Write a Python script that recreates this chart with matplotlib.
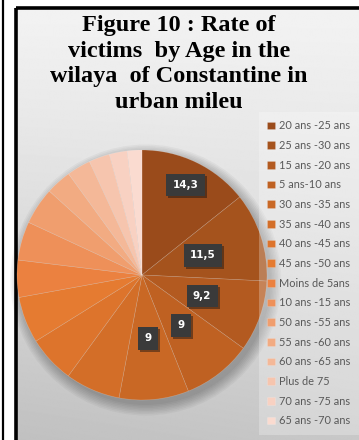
import matplotlib.pyplot as plt
import numpy as np
from matplotlib.patches import Rectangle, Circle
from matplotlib.patheffects import SimplePatchShadow, Normal

# age groups, share of victims (%)
ages = ["20 ans -25 ans", "25 ans -30 ans", "15 ans -20 ans", "5 ans-10 ans",
        "30 ans -35 ans", "35 ans -40 ans", "40 ans -45 ans", "45 ans -50 ans",
        "Moins de 5ans", "10 ans -15 ans", "50 ans -55 ans", "55 ans -60 ans",
        "60 ans -65 ans", "Plus de 75", "70 ans -75 ans", "65 ans -70 ans"]
rates = [14.3, 11.5, 9.2, 9, 9, 7.1, 6.1, 6.0, 4.8, 5.0, 4.8, 3.3, 3.1, 2.7, 2.3, 1.9]
shown = ["14,3", "11,5", "9,2", "9", "9"]

colors = ["#9a4b1b", "#a5531d", "#b35a20", "#bf6122", "#c96825", "#d36e28",
          "#dd742c", "#e57b31", "#eb8140", "#ee9059", "#f09e6e", "#f2ab82",
          "#f4b898", "#f6c5ae", "#f8d1c2", "#fadbd0"]

W, H = 359, 440
fig = plt.figure(figsize=(W / 100, H / 100), dpi=100)
fig.patch.set_facecolor("white")

# gray gradient panel
bg = fig.add_axes([0, 0, 1, 1], zorder=0)
bg.set_xlim(0, W)
bg.set_ylim(H, 0)
bg.axis("off")
yy, xx = np.mgrid[0:H, 0:W]
shade = 0.95 - 0.17 * (yy / H) ** 1.2 - 0.03 * (1 - xx / W) * (yy / H)
bg.imshow(shade, cmap="gray", vmin=0, vmax=1, extent=[15, W + 5, H + 5, 8],
          aspect="auto", zorder=0)
bg.add_patch(Rectangle((15.5, 8.5), W, H, fill=False, ec="black", lw=2.6, zorder=2))
bg.plot([3, 3], [0, H], color="black", lw=1.6, zorder=2)

fig.text(179 / W, 1 - 64 / H,
         "Figure 10 : Rate of\nvictims  by Age in the\nwilaya  of Constantine in\nurban mileu",
         ha="center", va="center", fontsize=17.5, fontweight="bold",
         family="Liberation Serif", linespacing=1.3, zorder=5)

# pie
cx, cy, R = 142, 275, 125
ax = fig.add_axes([(cx - R) / W, (H - cy - R) / H, 2 * R / W, 2 * R / H], zorder=3)
# soft shadow under the pie
for k in range(8):
    ax.add_patch(Circle((0.03, -0.04), 1.0 + 0.012 * k, fc="black", ec="none",
                        alpha=0.035, zorder=0, clip_on=False))
wedges, _ = ax.pie(rates, colors=colors, startangle=90, counterclock=False,
                   radius=1, wedgeprops=dict(linewidth=0.4, edgecolor=(1, 1, 1, 0.25)))
ax.set_xlim(-1, 1)
ax.set_ylim(-1, 1)
ax.axis("off")

# value boxes on the biggest slices
total = sum(rates)
start = 90
for i, lab in enumerate(shown):
    span = rates[i] / total * 360
    mid = np.radians(start - span / 2)
    start -= span
    r = 0.8 if i == 0 else 0.51
    t = ax.text(r * np.cos(mid), r * np.sin(mid), lab, ha="center", va="center",
                color="white", fontsize=7.5, fontweight="bold", family="DejaVu Sans",
                bbox=dict(boxstyle="square,pad=0.6", fc="#3a3a3a", ec="none"))
    t.get_bbox_patch().set_path_effects([SimplePatchShadow(offset=(1.5, -1.5), alpha=0.45), Normal()])

leg = fig.legend(wedges, ages, loc="upper left", bbox_to_anchor=(257 / W, 1 - 110 / H),
                 frameon=True, handlelength=0.7, handleheight=0.7,
                 handletextpad=0.4, labelspacing=0.79, borderpad=0.45,
                 prop=dict(family="Lato", size=7.9))
leg.get_frame().set_facecolor("white")
leg.get_frame().set_alpha(0.25)
leg.get_frame().set_edgecolor("none")
leg.get_frame().set_boxstyle("square")
leg.set_zorder(6)
for txt in leg.get_texts():
    txt.set_color("#595959")

fig.savefig("out.png", dpi=100)
